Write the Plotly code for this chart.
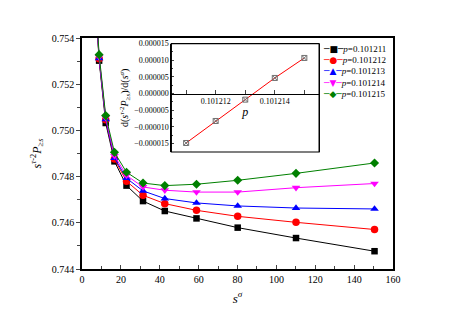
import plotly.graph_objects as go

# ---- main panel data ----
s_sigma = [6.4, 8.8, 12.2, 16.7, 22.9, 31.4, 42.6, 58.9, 80.1, 110.1, 150.5]
p_labels = ["0.101211", "0.101212", "0.101213", "0.101214", "0.101215"]
y_p1 = [0.7563, 0.75302, 0.75032, 0.74866, 0.74761, 0.74694, 0.74651, 0.74619, 0.74579, 0.74534, 0.74477]
y_p2 = [0.7564, 0.75310, 0.75046, 0.74876, 0.74780, 0.74719, 0.74683, 0.74654, 0.74628, 0.74602, 0.74571]
y_p3 = [0.7565, 0.75312, 0.75048, 0.74880, 0.74793, 0.74738, 0.74705, 0.74686, 0.74673, 0.74664, 0.74660]
y_p4 = [0.7565, 0.75318, 0.75055, 0.74890, 0.74805, 0.74755, 0.74741, 0.74733, 0.74733, 0.74752, 0.74770]
y_p5 = [0.7566, 0.75328, 0.75064, 0.74905, 0.74819, 0.74772, 0.74761, 0.74767, 0.74784, 0.74814, 0.74859]

# ---- inset data ----
inset_p = [0.101211, 0.101212, 0.101213, 0.101214, 0.101215]
inset_deriv = [-1.48e-5, -8.2e-6, -1.8e-6, 4.7e-6, 1.07e-5]

series = [y_p1, y_p2, y_p3, y_p4, y_p5]
colors = ["#000000", "#ff0000", "#0000ff", "#ff00ff", "#008000"]
symbols = ["square", "circle", "triangle-up", "triangle-down", "diamond"]
sizes = [6.5, 7.5, 7.5, 7.5, 7]
glyphs = ["■", "●", "▲", "▼", "◆"]

FONT = "Liberation Serif"

fig = go.Figure()
for ys, c, sym, sz, lab in zip(series, colors, symbols, sizes, p_labels):
    fig.add_trace(go.Scatter(
        x=s_sigma, y=ys, mode="lines+markers",
        line=dict(color=c, width=1),
        marker=dict(symbol=sym, size=sz, color=c),
        name="p=" + lab, showlegend=False,
        xaxis="x", yaxis="y",
    ))

fig.add_trace(go.Scatter(
    x=inset_p, y=inset_deriv, mode="lines+markers",
    line=dict(color="#ff0000", width=1),
    marker=dict(symbol="square-x-open", size=5, color="#707070", line=dict(width=1)),
    showlegend=False, xaxis="x2", yaxis="y2",
))

# page body has an 8px margin; lay the figure out in page pixels minus that offset
OFF = 8
W, H = 457 - 2 * OFF, 323 - 2 * OFF
plot_l, plot_r, plot_t, plot_b = 81.5 - OFF, 393 - OFF, 37.7 - OFF, 268.7 - OFF
ml, mr, mt, mb = plot_l, W - plot_r, plot_t, H - plot_b
plot_w = plot_r - plot_l
plot_h = plot_b - plot_t

def px_to_fx(px):
    return (px - OFF - plot_l) / plot_w

def px_to_fy(py):
    return (plot_b - (py - OFF)) / plot_h

ix_dom = [px_to_fx(171), px_to_fx(319)]
iy_dom = [px_to_fy(151.7), px_to_fy(43.3)]
iy_range = [-1.75e-5, 1.5e-5]
zero_pos = iy_dom[0] + (0 - iy_range[0]) / (iy_range[1] - iy_range[0]) * (iy_dom[1] - iy_dom[0])

axis_common = dict(showgrid=False, zeroline=False, showline=True, linecolor="black")

fig.update_layout(
    width=W, height=H,
    margin=dict(l=ml, r=mr, t=mt, b=mb, pad=0),
    paper_bgcolor="white", plot_bgcolor="white",
    font=dict(family=FONT, color="black", size=10),
    xaxis=dict(
        **axis_common, domain=[0, 1], range=[0, 160], dtick=20, tick0=0,
        ticks="inside", ticklen=4, linewidth=1.5, mirror=True,
        minor=dict(dtick=10, ticks="inside", ticklen=3),
        tickfont=dict(size=10, family=FONT),
        title=dict(text="<i>s</i><sup><i>σ</i></sup>", font=dict(size=13, family=FONT), standoff=10),
        automargin=False,
    ),
    yaxis=dict(
        **axis_common, domain=[0, 1], range=[0.744, 0.754], dtick=0.002, tick0=0.744,
        tickformat=".3f", ticks="outside", ticklen=4, linewidth=1.5, mirror=True,
        minor=dict(dtick=0.001, ticks="outside", ticklen=3),
        tickfont=dict(size=10, family=FONT),
        title=dict(text="<i>s</i><sup><i>τ</i>-2</sup><i>P</i><sub>≥<i>s</i></sub>",
                   font=dict(size=12, family=FONT), standoff=8),
        automargin=False,
    ),
    xaxis2=dict(
        **axis_common, domain=ix_dom, range=[0.1012105, 0.1012155],
        anchor="free", position=zero_pos,
        tick0=0.101212, dtick=2e-6, tickformat=".6f",
        ticks="inside", ticklen=4, linewidth=1,
        minor=dict(dtick=1e-6, ticks="inside", ticklen=4),
        tickfont=dict(size=8, family=FONT),
        title=dict(text="<i>p</i>", font=dict(size=12, family=FONT), standoff=2),
        automargin=False,
    ),
    yaxis2=dict(
        **axis_common, domain=iy_dom, range=iy_range, anchor="x2",
        tick0=0, dtick=5e-6, tickformat=".6f",
        ticks="inside", ticklen=3, linewidth=1, mirror=True,
        minor=dict(dtick=2.5e-6, ticks="inside", ticklen=2),
        tickfont=dict(size=8, family=FONT),
        title=dict(text="d(<i>s</i><sup><i>τ</i>-2</sup><i>P</i><sub>≥<i>s</i></sub>)/d(<i>s</i><sup><i>σ</i></sup>)",
                   font=dict(size=10, family=FONT), standoff=3),
        automargin=False,
    ),
)

# inset frame
fig.add_shape(type="rect", xref="x2 domain", yref="y2 domain", x0=0, x1=1, y0=0, y1=1,
              line=dict(color="black", width=1.2))

# custom compact legend
for i, (c, g, lab) in enumerate(zip(colors, glyphs, p_labels)):
    ypx = 48.3 + i * 11.3
    fig.add_annotation(
        xref="paper", yref="paper", x=px_to_fx(321), y=px_to_fy(ypx),
        xanchor="left", yanchor="middle", showarrow=False,
        text=f"<span style='color:{c};font-family:DejaVu Sans'>─{g}─</span><i>p</i>={lab}",
        font=dict(size=9, family=FONT, color="black"),
    )

fig.write_html("out.html")
